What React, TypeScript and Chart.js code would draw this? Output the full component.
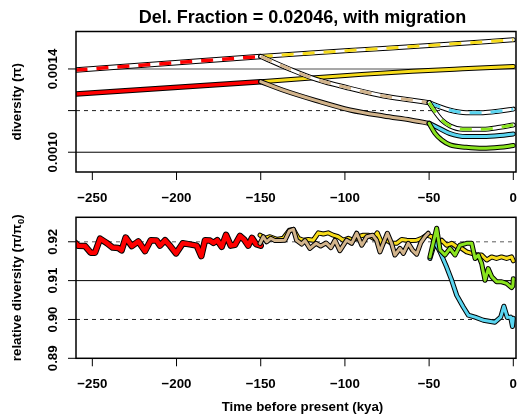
import React, { useEffect, useRef } from "react";
import { Chart, registerables } from "chart.js";

Chart.register(...registerables);

// ---------------- shared x axis ----------------
const xTicks = [-250, -200, -150, -100, -50, 0];
const xTickLabels = ["\u2212250", "\u2212200", "\u2212150", "\u2212100", "\u221250", "0"];

// ---------------- top panel: diversity (pi) ----------------
const topYTicks = [0.001, 0.0012, 0.0014];
const topYTickLabels = ["0.0010", "", "0.0014"];
const topRefValues = [0.0014, 0.0012, 0.001];

// upper (dashed) trajectories
const upRedT = [-260, -150];
const upRedV = [0.001395, 0.00146];
const upYellowT = [-150, -100, -50, 0];
const upYellowV = [0.00146, 0.001487, 0.001513, 0.00154];
const upTanT = [-150, -133, -117, -97, -77, -61, -50];
const upTanV = [0.00146, 0.0014, 0.00135, 0.001307, 0.00127, 0.001251, 0.001238];
const upCyanT = [-50, -44, -38, -28, -18, -8, 0];
const upCyanV = [0.001238, 0.001219, 0.001203, 0.00119, 0.00119, 0.001198, 0.001207];
const upGreenT = [-50, -46.5, -42.5, -37.5, -30, -18, -8, 0];
const upGreenV = [0.001238, 0.001195, 0.001155, 0.001126, 0.00111, 0.00111, 0.00112, 0.001131];

// lower (solid) trajectories
const loRedT = [-260, -150];
const loRedV = [0.001279, 0.001339];
const loYellowT = [-150, -120, -90, -60, -30, 0];
const loYellowV = [0.001339, 0.001357, 0.001374, 0.001389, 0.001401, 0.001412];
const loTanT = [-150, -137, -117, -97, -77, -61, -50];
const loTanV = [0.001339, 0.001299, 0.001248, 0.001203, 0.001174, 0.001155, 0.001139];
const loCyanT = [-50, -44, -38, -28, -18, -8, 0];
const loCyanV = [0.001139, 0.001115, 0.001091, 0.001075, 0.001075, 0.00108, 0.001088];
const loGreenT = [-50, -46.5, -42.5, -37.5, -28, -18, -8, 0];
const loGreenV = [0.001139, 0.001091, 0.001059, 0.001035, 0.001024, 0.001019, 0.001024, 0.001032];

// ---------------- bottom panel: relative diversity ----------------
const botYTicks = [0.89, 0.9, 0.91, 0.92];
const botYTickLabels = ["0.89", "0.90", "0.91", "0.92"];
const botRefValues = [0.92, 0.91, 0.9];

const relRedT = [-260, -258.5, -254.3, -251, -248.4, -245.4, -241.5, -237.9, -234.6, -232.6, -230.2, -226.6, -222.7, -218.7, -215.3, -211.8, -209.8, -206.8, -203.9, -200.3, -196.3, -193, -188, -185.3, -183.1, -180.1, -178.1, -175.8, -173.2, -170.6, -167.8, -165.3, -162.3, -159.9, -157.4, -155.2, -152.8, -150];
const relRedV = [0.9197, 0.919, 0.9189, 0.9172, 0.9172, 0.9208, 0.9197, 0.9185, 0.9184, 0.9178, 0.9211, 0.9189, 0.9201, 0.9176, 0.9204, 0.9203, 0.919, 0.9204, 0.919, 0.917, 0.9196, 0.9194, 0.919, 0.9163, 0.9204, 0.9203, 0.9197, 0.9204, 0.9187, 0.9218, 0.919, 0.9192, 0.9215, 0.9206, 0.919, 0.921, 0.9194, 0.919];

const relYellowT = [-150.4, -147.5, -144.5, -140.5, -136.6, -133, -130.6, -127.7, -124.7, -121.7, -118.8, -115.8, -112.8, -110, -107, -104, -101, -98, -95, -92, -89, -86, -83, -80.8, -78.2, -75.2, -72.3, -69.3, -66.3, -63.3, -60.4, -57.4, -54.4, -51.4, -48.4, -45.5, -42.5, -39.6, -36.6, -33.6, -30.7, -27.7, -24.7, -21.8, -18.8, -15.8, -12.9, -10, -7, -4, -1, 0];
const relYellowV = [0.9217, 0.9209, 0.9213, 0.9206, 0.9209, 0.923, 0.9232, 0.9209, 0.9204, 0.9206, 0.9204, 0.9223, 0.922, 0.9223, 0.9217, 0.9213, 0.9204, 0.9209, 0.9204, 0.9213, 0.9217, 0.9217, 0.9209, 0.9223, 0.9197, 0.9204, 0.9196, 0.9196, 0.9206, 0.9204, 0.9203, 0.9204, 0.9209, 0.9217, 0.9213, 0.9191, 0.9204, 0.9191, 0.9196, 0.9187, 0.9183, 0.9174, 0.917, 0.9166, 0.9166, 0.9153, 0.9161, 0.9157, 0.9161, 0.9157, 0.9161, 0.9151];

const relTanT = [-150.4, -148.5, -146.5, -144.1, -141.5, -138.6, -135.6, -133, -130.6, -128.7, -125.7, -123.7, -120.8, -117.2, -114.4, -111.2, -108.3, -105.9, -103, -99, -96, -93, -90, -87, -83.5, -81.2, -79.2, -77.2, -74.8, -72.3, -70.3, -67.3, -65.3, -62.4, -59.8, -57.4, -55, -52.5, -50.5];
const relTanV = [0.9196, 0.9213, 0.92, 0.9209, 0.9203, 0.9203, 0.9204, 0.9228, 0.9232, 0.9204, 0.9194, 0.9203, 0.9183, 0.9196, 0.9189, 0.9197, 0.9185, 0.9204, 0.9177, 0.9204, 0.9196, 0.9222, 0.9191, 0.9213, 0.9217, 0.9204, 0.9174, 0.9196, 0.9222, 0.9196, 0.9166, 0.9183, 0.917, 0.9196, 0.9178, 0.9168, 0.9197, 0.9213, 0.9222];

const relCyanT = [-49.5, -46.5, -43.5, -39.6, -36.6, -33.6, -29.7, -26.7, -22.7, -17.8, -10.9, -7.5, -5.6, -3.6, -1.6, -0.5, 0];
const relCyanV = [0.9157, 0.92, 0.9174, 0.9135, 0.9101, 0.9062, 0.9032, 0.9011, 0.9006, 0.8998, 0.8993, 0.9006, 0.9034, 0.9005, 0.9006, 0.8982, 0.9003];

const relGreenT = [-49.5, -45.5, -43.5, -40.6, -37.6, -34.6, -31.7, -27.7, -24.7, -22.7, -20.8, -18.8, -16.8, -14.9, -12.8, -9.9, -6.9, -4, -1, -0.3, 0];
const relGreenV = [0.9161, 0.9235, 0.9179, 0.9166, 0.9183, 0.9166, 0.9191, 0.9196, 0.9196, 0.9157, 0.9166, 0.9144, 0.9101, 0.9131, 0.911, 0.9097, 0.9097, 0.9093, 0.9082, 0.9086, 0.9105];

// ---------------- colours ----------------
const RED = "#FF0000";
const YELLOW = "#F7DC1B";
const TAN = "#D2B48C";
const CYAN = "#5AD5F0";
const GREEN = "#8AE41E";

const FONT = "'Liberation Sans', Arial, Helvetica, sans-serif";
const TICK_SIZE = 13.3;

type LineSpec = { t: number[]; v: number[]; color: string; width: number; dashed?: boolean; smooth?: boolean };

function series(t: number[], v: number[]) {
  return t.map((x, i) => ({ x, y: v[i] }));
}

function makeDatasets(specs: LineSpec[]) {
  const out: any[] = [];
  for (const s of specs) {
    const base = {
      data: series(s.t, s.v),
      pointRadius: 0,
      pointHoverRadius: 0,
      fill: false,
      tension: 0,
      cubicInterpolationMode: s.smooth ? "monotone" : "default",
      borderJoinStyle: "round",
    };
    out.push({ ...base, borderColor: "#000", borderWidth: s.width + 2, borderCapStyle: "round" });
    if (s.dashed) out.push({ ...base, borderColor: "#fff", borderWidth: s.width, borderCapStyle: "round" });
    out.push({
      ...base,
      borderColor: s.color,
      borderWidth: s.width,
      borderDash: s.dashed ? [12, 9] : [],
      borderCapStyle: s.dashed ? "butt" : "round",
    });
  }
  const n = out.length;
  return out.map((d, i) => ({ ...d, order: n - i }));
}

type TextPart = { text: string; sub?: boolean };
type RefStyle = { color: string; width: number; dash: number[] };

function panelPlugin(p: {
  yTicks: number[];
  yTickLabels: string[];
  refValues: number[];
  refStyles: RefStyle[];
  yTitle: TextPart[];
  title?: string;
  xTitle?: string;
}) {
  return {
    id: "rPanel",
    beforeDatasetsDraw(chart: any) {
      const { ctx, chartArea: a, scales } = chart;
      ctx.save();
      p.refValues.forEach((v, i) => {
        const st = p.refStyles[i];
        const py = scales.y.getPixelForValue(v);
        ctx.beginPath();
        ctx.setLineDash(st.dash);
        ctx.strokeStyle = st.color;
        ctx.lineWidth = st.width;
        ctx.moveTo(a.left, py);
        ctx.lineTo(a.right, py);
        ctx.stroke();
      });
      ctx.restore();
    },
    afterDraw(chart: any) {
      const { ctx, chartArea: a, scales } = chart;
      ctx.save();
      ctx.setLineDash([]);
      ctx.strokeStyle = "#000";
      ctx.fillStyle = "#000";
      ctx.lineWidth = 1.5;
      ctx.strokeRect(a.left, a.top, a.right - a.left, a.bottom - a.top);

      ctx.lineWidth = 1;
      ctx.font = `bold ${TICK_SIZE}px ${FONT}`;
      ctx.textAlign = "center";
      ctx.textBaseline = "alphabetic";
      xTicks.forEach((t, i) => {
        const px = scales.x.getPixelForValue(t);
        ctx.beginPath();
        ctx.moveTo(px, a.bottom);
        ctx.lineTo(px, a.bottom + 8);
        ctx.stroke();
        ctx.fillText(xTickLabels[i], px, a.bottom + 30);
      });
      p.yTicks.forEach((v, i) => {
        const py = scales.y.getPixelForValue(v);
        ctx.beginPath();
        ctx.moveTo(a.left - 8, py);
        ctx.lineTo(a.left, py);
        ctx.stroke();
        const lab = p.yTickLabels[i];
        if (lab) {
          ctx.save();
          ctx.translate(a.left - 19.5, py);
          ctx.rotate(-Math.PI / 2);
          ctx.fillText(lab, 0, 0);
          ctx.restore();
        }
      });

      // rotated y title with optional subscript parts
      ctx.save();
      ctx.translate(20.5, (a.top + a.bottom) / 2);
      ctx.rotate(-Math.PI / 2);
      ctx.textAlign = "left";
      let total = 0;
      const widths = p.yTitle.map((part) => {
        ctx.font = `bold ${part.sub ? TICK_SIZE * 0.7 : TICK_SIZE}px ${FONT}`;
        const w = ctx.measureText(part.text).width;
        total += w;
        return w;
      });
      let cx = -total / 2;
      p.yTitle.forEach((part, i) => {
        ctx.font = `bold ${part.sub ? TICK_SIZE * 0.7 : TICK_SIZE}px ${FONT}`;
        ctx.fillText(part.text, cx, part.sub ? TICK_SIZE * 0.3 : 0);
        cx += widths[i];
      });
      ctx.restore();

      ctx.textAlign = "center";
      if (p.title) {
        ctx.font = `bold 18px ${FONT}`;
        ctx.fillText(p.title, 302.5, a.top - 8.2);
      }
      if (p.xTitle) {
        ctx.font = `bold ${TICK_SIZE}px ${FONT}`;
        ctx.fillText(p.xTitle, 302.5, a.bottom + 52.7);
      }
      ctx.restore();
    },
  };
}

export default function App() {
  const topRef = useRef<HTMLCanvasElement>(null);
  const botRef = useRef<HTMLCanvasElement>(null);

  useEffect(() => {
    document.body.style.margin = "0";

    const topDatasets = makeDatasets([
      { t: loRedT, v: loRedV, color: RED, width: 3.5, smooth: true },
      { t: loYellowT, v: loYellowV, color: YELLOW, width: 3, smooth: true },
      { t: loTanT, v: loTanV, color: TAN, width: 3, smooth: true },
      { t: loCyanT, v: loCyanV, color: CYAN, width: 3, smooth: true },
      { t: loGreenT, v: loGreenV, color: GREEN, width: 3, smooth: true },
      { t: upRedT, v: upRedV, color: RED, width: 3.5, dashed: true, smooth: true },
      { t: upYellowT, v: upYellowV, color: YELLOW, width: 3, dashed: true, smooth: true },
      { t: upTanT, v: upTanV, color: TAN, width: 3, dashed: true, smooth: true },
      { t: upCyanT, v: upCyanV, color: CYAN, width: 3, dashed: true, smooth: true },
      { t: upGreenT, v: upGreenV, color: GREEN, width: 3, dashed: true, smooth: true },
    ]);

    const botDatasets = makeDatasets([
      { t: relRedT, v: relRedV, color: RED, width: 4.5 },
      { t: relYellowT, v: relYellowV, color: YELLOW, width: 3 },
      { t: relTanT, v: relTanV, color: TAN, width: 3 },
      { t: relCyanT, v: relCyanV, color: CYAN, width: 3 },
      { t: relGreenT, v: relGreenV, color: GREEN, width: 3 },
    ]);

    const common: any = {
      responsive: false,
      animation: false,
      devicePixelRatio: 1,
      events: [],
      plugins: { legend: { display: false }, tooltip: { enabled: false } },
    };

    const top = new Chart(topRef.current!, {
      type: "line",
      data: { datasets: topDatasets },
      options: {
        ...common,
        layout: { padding: { left: 76, right: 4, top: 31.5, bottom: 34 } },
        scales: {
          x: { type: "linear", min: -259.7, max: 1.6, display: false },
          y: { type: "linear", min: 0.000905, max: 0.00158, display: false },
        },
      },
      plugins: [
        panelPlugin({
          yTicks: topYTicks,
          yTickLabels: topYTickLabels,
          refValues: topRefValues,
          refStyles: [
            { color: "#8a8a8a", width: 1.6, dash: [] },
            { color: "#222", width: 1, dash: [4, 4] },
            { color: "#000", width: 1, dash: [] },
          ],
          yTitle: [{ text: "diversity (\u03c0)" }],
          title: "Del. Fraction = 0.02046, with migration",
        }),
      ],
    } as any);

    const bot = new Chart(botRef.current!, {
      type: "line",
      data: { datasets: botDatasets },
      options: {
        ...common,
        layout: { padding: { left: 76, right: 4, top: 11.3, bottom: 60.7 } },
        scales: {
          x: { type: "linear", min: -259.7, max: 1.6, display: false },
          y: { type: "linear", min: 0.89, max: 0.9263, display: false },
        },
      },
      plugins: [
        panelPlugin({
          yTicks: botYTicks,
          yTickLabels: botYTickLabels,
          refValues: botRefValues,
          refStyles: [
            { color: "#777", width: 1.2, dash: [4, 4] },
            { color: "#000", width: 1, dash: [] },
            { color: "#222", width: 1, dash: [4, 4] },
          ],
          yTitle: [
            { text: "relative diversity (\u03c0/\u03c0" },
            { text: "0", sub: true },
            { text: ")" },
          ],
          xTitle: "Time before present (kya)",
        }),
      ],
    } as any);

    return () => {
      top.destroy();
      bot.destroy();
    };
  }, []);

  return (
    <div style={{ position: "relative", width: 520, height: 419, background: "#fff" }}>
      <canvas ref={topRef} width={520} height={206} style={{ position: "absolute", left: 0, top: 0 }} />
      <canvas ref={botRef} width={520} height={213} style={{ position: "absolute", left: 0, top: 206 }} />
    </div>
  );
}
